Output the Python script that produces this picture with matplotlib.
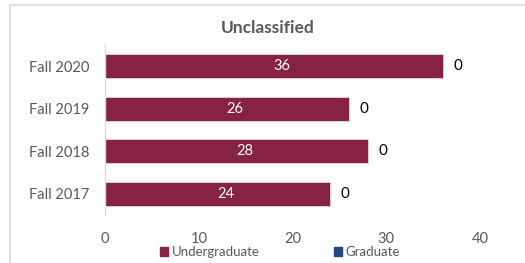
import matplotlib
matplotlib.use("Agg")
import matplotlib.pyplot as plt
from matplotlib.patches import Rectangle
from matplotlib.lines import Line2D

categories = ["Fall 2017", "Fall 2018", "Fall 2019", "Fall 2020"]
undergraduate = [24, 28, 26, 36]
graduate = [0, 0, 0, 0]
xticks = [0, 10, 20, 30, 40]
title = "Unclassified"

maroon = "#862345"
navy = "#1F497D"
gray_text = "#595959"

plt.rcParams['font.family'] = ['Lato', 'DejaVu Sans']

fig = plt.figure(figsize=(5.25, 2.63), dpi=100)
ax = fig.add_axes([105/525, 1-215/263, 375/525, 170/263])

y = list(range(len(categories)))
ax.barh(y, undergraduate, height=0.56, color=maroon, edgecolor="#e8d5db", linewidth=0.6, label="Undergraduate")
ax.barh(y, graduate, left=undergraduate, height=0.56, color=navy, label="Graduate")

for yi, u, g in zip(y, undergraduate, graduate):
    ax.annotate(str(u), (u/2, yi), xytext=(6, 0), textcoords="offset points",
                ha="center", va="center", color="white", fontsize=10.5)
    ax.annotate(str(g), (u+g, yi), xytext=(11, 0), textcoords="offset points",
                ha="center", va="center", color="black", fontsize=11)

ax.set_xlim(0, 40)
ax.set_ylim(-0.5, 3.5)
ax.set_xticks(xticks)
ax.set_xticklabels([str(t) for t in xticks], color=gray_text, fontsize=10.5)
ax.set_yticks(y)
ax.set_yticklabels(categories, color=gray_text, fontsize=10.5)
ax.tick_params(axis="both", length=0)
ax.tick_params(axis="x", pad=12)
ax.tick_params(axis="y", pad=11)
for s in ["top", "right", "bottom"]:
    ax.spines[s].set_visible(False)
ax.spines["left"].set_color("#d9d9d9")
ax.spines["left"].set_linewidth(1)

fig.text(268/525, 1-28/263, title, ha="center", va="center", fontsize=12.5,
         fontweight="bold", color=gray_text)

# legend
handles = [Rectangle((0, 0), 1, 1, color=maroon), Rectangle((0, 0), 1, 1, color=navy)]
leg = fig.legend(handles, ["Undergraduate", "Graduate"], loc="center",
                 bbox_to_anchor=(280/525, 1-252/263), ncol=2, frameon=False,
                 fontsize=9.5, handlelength=0.6, handleheight=0.6, handletextpad=0.3,
                 columnspacing=5.6, labelcolor=gray_text)

# outer frame lines
fig.add_artist(Line2D([10/525, 10/525], [0, 1-5/263], color="#d9d9d9", lw=1.2, transform=fig.transFigure))
fig.add_artist(Line2D([10/525, 1], [1-5/263, 1-5/263], color="#d9d9d9", lw=1.2, transform=fig.transFigure))

fig.savefig("out.png", dpi=100)
